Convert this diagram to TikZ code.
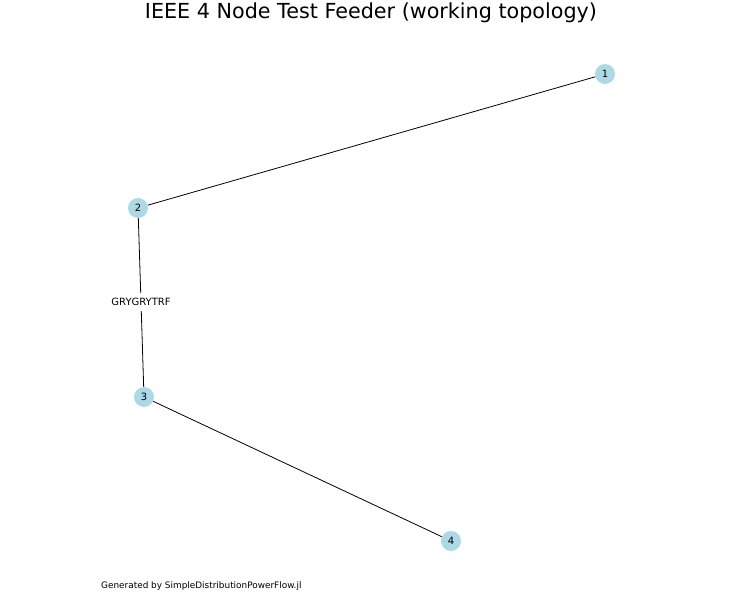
\documentclass[tikz,border=0pt]{standalone}
\usepackage{fontspec}
\setmainfont{DejaVu Sans}
\definecolor{nodeblue}{RGB}{173,216,230}
\begin{document}
\begin{tikzpicture}[x=1pt,y=-1pt,
  bus/.style={circle,fill=nodeblue,minimum size=20pt,inner sep=0pt,font=\fontsize{10}{11}\selectfont},
  edgelabel/.style={fill=white,inner sep=2pt,font=\fontsize{10}{11}\selectfont},
  line/.style={draw=black,line width=0.8pt}]
\useasboundingbox (0,0) rectangle (742,602);
\node[font=\fontsize{20.7}{23}\selectfont] (title) at (371,12.5) {IEEE 4 Node Test Feeder (working topology)};
\node[bus] (n1) at (605,74) {1};
\node[bus] (n2) at (138,208) {2};
\node[bus] (n3) at (144,397) {3};
\node[bus] (n4) at (451,541) {4};
\node[edgelabel,inner ysep=5pt] (lbl) at (141,302) {GRYGRYTRF};
\draw[line] (n2) -- (n1);
\draw[line] (n2) -- (lbl);
\draw[line] (lbl) -- (n3);
\draw[line] (n3) -- (n4);
\node[anchor=west,inner sep=0pt,font=\fontsize{8.9}{10}\selectfont] (foot) at (101,586) {Generated by SimpleDistributionPowerFlow.jl};
\end{tikzpicture}
\end{document}
